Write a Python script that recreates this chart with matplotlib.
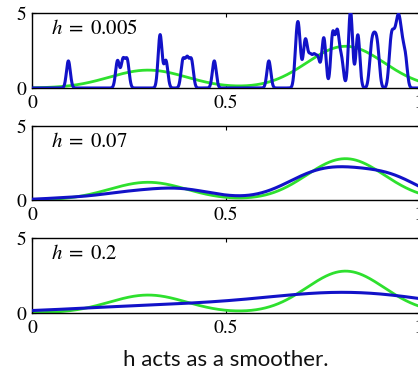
import numpy as np
import matplotlib
matplotlib.use("Agg")
import matplotlib.pyplot as plt

# bandwidths of the three panels
bandwidths = [0.005, 0.07, 0.2]

# green curve: mixture of two gaussians
mix_weights = [0.3, 0.7]
mix_means = [0.3, 0.81]
mix_sds = [0.1, 0.1]

samples_left = [0.094, 0.221, 0.235, 0.246, 0.330, 0.332, 0.346,
                0.390, 0.401, 0.412, 0.471, 0.612]
samples_right = [0.683, 0.687, 0.691, 0.704, 0.709, 0.719, 0.729, 0.739,
                 0.752, 0.756, 0.776, 0.778, 0.788, 0.790, 0.800, 0.821,
                 0.823, 0.825, 0.841, 0.843, 0.876, 0.882, 0.888, 0.894,
                 0.926, 0.931, 0.937, 0.943, 0.947, 0.951, 0.957, 0.965]

xticks = [0, 0.5, 1]
xticklabels = ["0", "0.5", "1"]
yticks = [0, 5]
yticklabels = ["0", "5"]
caption = "h acts as a smoother."

GREEN = "#2ee02e"
BLUE = "#1212c8"


def gauss(x, m, s):
    return np.exp(-0.5 * ((x - m) / s) ** 2) / (s * np.sqrt(2 * np.pi))


def mixture(x):
    return sum(w * gauss(x, m, s) for w, m, s in zip(mix_weights, mix_means, mix_sds))


def kde(x, pts, h):
    pts = np.asarray(pts)
    return gauss(x[:, None], pts[None, :], h).mean(axis=1)


plt.rcParams["mathtext.fontset"] = "stix"

W, H = 418, 372
fig = plt.figure(figsize=(W / 100, H / 100), dpi=100)

x = np.linspace(0, 1, 2000)
pts = samples_left + samples_right

# panel boxes in pixels (top, bottom)
boxes = [(13.3, 88.0), (126.0, 200.0), (238.0, 313.0)]
left_px, right_px = 32.0, 419.0

for (top, bot), h in zip(boxes, bandwidths):
    ax = fig.add_axes([left_px / W, 1 - bot / H, (right_px - left_px) / W, (bot - top) / H])
    ax.plot(x, mixture(x), color=GREEN, lw=2.0, zorder=2)
    ax.plot(x, kde(x, pts, h), color=BLUE, lw=2.2, zorder=3)
    ax.set_xlim(0, 1)
    ax.set_ylim(0, 5)
    ax.set_xticks(xticks)
    ax.set_xticklabels(xticklabels)
    ax.set_yticks(yticks)
    ax.set_yticklabels(yticklabels)
    ax.tick_params(direction="in", top=True, right=True, length=3, width=0.8,
                   labelsize=14, pad=4)
    ax.tick_params(axis="x", pad=5)
    for lab in ax.get_xticklabels() + ax.get_yticklabels():
        lab.set_family("STIXGeneral")
    for sp in ax.spines.values():
        sp.set_linewidth(1.0)
    ax.text(0.05, 4.0, r"$h\;=\;%g$" % h, fontsize=15, va="center", ha="left")

fig.text(226 / W, 1 - 366 / H, caption, ha="center", va="baseline",
         fontsize=16, family="Lato", color="#111111")

fig.savefig("out.png", dpi=100)
